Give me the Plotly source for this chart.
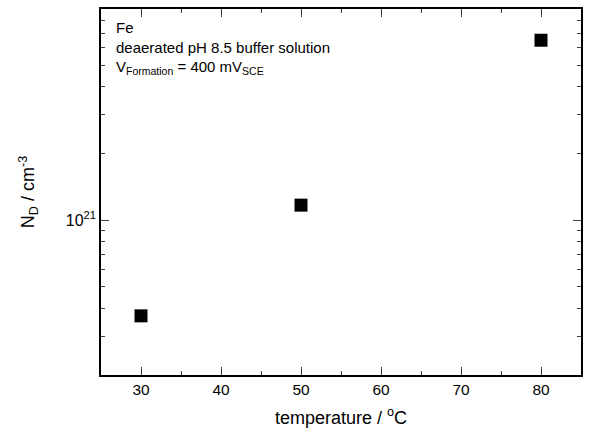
import plotly.graph_objects as go

temperature = [30, 50, 80]
nd = [3.7e20, 1.17e21, 6.5e21]

x_major = [30, 40, 50, 60, 70, 80]
x_minor = [25, 35, 45, 55, 65, 75, 85]
y_major = [1e21]
y_major_text = ["10<sup>21</sup>"]
y_minor = [2e20, 3e20, 4e20, 5e20, 6e20, 7e20, 8e20, 9e20,
           2e21, 3e21, 4e21, 5e21, 6e21, 7e21, 8e21, 9e21]

font = "Liberation Sans, Arial, sans-serif"

fig = go.Figure()
fig.add_trace(go.Scatter(
    x=temperature, y=nd, mode="markers",
    marker=dict(symbol="square", size=13, color="black", line=dict(width=0)),
    showlegend=False,
))

fig.update_layout(
    width=590, height=440,
    margin=dict(l=101, r=7, t=7, b=65),
    paper_bgcolor="white", plot_bgcolor="white",
    font=dict(family=font, color="black", size=15),
    xaxis=dict(
        range=[25, 85], tickvals=x_major, ticks="inside", ticklen=8, tickwidth=1.4,
        showline=True, linewidth=1.6, linecolor="black", mirror="allticks",
        showgrid=False, zeroline=False, tickfont=dict(size=15.5),
        minor=dict(tickvals=x_minor, ticks="inside", ticklen=4, tickwidth=1.4, showgrid=False),
        title=dict(text="temperature / <sup>o</sup>C", font=dict(size=18), standoff=14),
    ),
    yaxis=dict(
        type="log", range=[20.301, 21.954],
        tickvals=y_major, ticktext=y_major_text,
        ticks="inside", ticklen=8, tickwidth=1.4,
        showline=True, linewidth=1.6, linecolor="black", mirror="allticks",
        showgrid=False, zeroline=False, tickfont=dict(size=16),
        minor=dict(tickvals=y_minor, ticks="inside", ticklen=4, tickwidth=1.4, showgrid=False),
        title=dict(text="N<sub>D</sub> / cm<sup>-3</sup>", font=dict(size=18), standoff=26),
    ),
    annotations=[
        dict(xref="paper", yref="paper", x=0.027, y=0.978, xanchor="left", yanchor="top",
             align="left", showarrow=False, font=dict(size=15),
             text="Fe<br>deaerated pH 8.5 buffer solution<br>V<sub>Formation</sub> = 400 mV<sub>SCE</sub>"),
    ],
)

fig.write_html("out.html")
